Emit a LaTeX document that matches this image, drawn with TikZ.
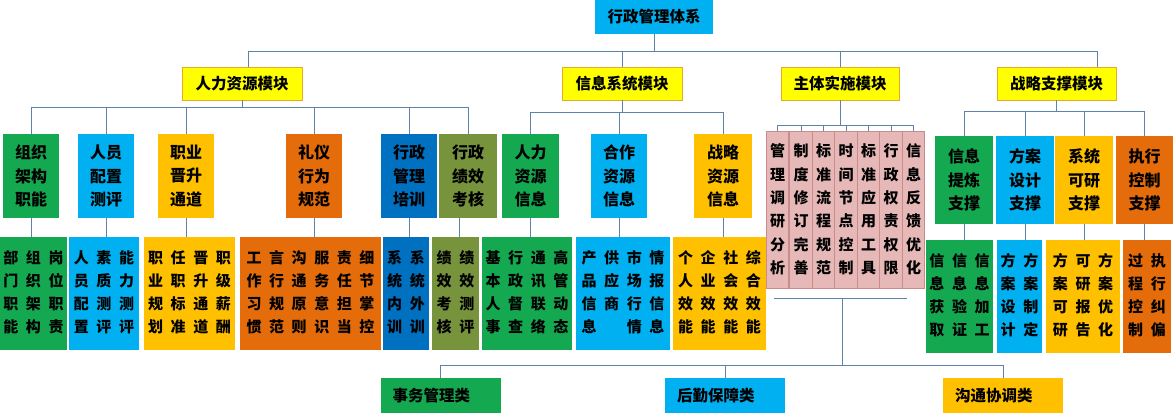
\documentclass[tikz,border=0pt]{standalone}
\usepackage{fontspec}
\setmainfont{Noto Sans CJK SC}
\definecolor{grn}{RGB}{20,168,80}
\definecolor{cyanb}{RGB}{0,176,240}
\definecolor{org}{RGB}{255,192,0}
\definecolor{orr}{RGB}{228,108,10}
\definecolor{blu}{RGB}{0,112,192}
\definecolor{olv}{RGB}{119,147,60}
\definecolor{yel}{RGB}{255,255,0}
\definecolor{yelb}{RGB}{230,170,40}
\definecolor{pinkc}{RGB}{230,185,184}
\definecolor{pinkb}{RGB}{200,140,140}
\definecolor{lnc}{RGB}{95,130,170}
\newcommand\grid[2]{\setlength\tabcolsep{3.8pt}\begin{tabular}{@{}*{#1}{c}@{}}#2\end{tabular}}
\tikzset{
  ln/.style={draw=lnc, line width=0.8pt},
  bx/.style={inner sep=0pt, font=\fontsize{16}{23.5}\selectfont\bfseries, align=center},
  l1/.style={bx, font=\fontsize{15.5}{18}\selectfont\bfseries, fill=cyanb, minimum width=118, minimum height=34},
  l2/.style={bx, font=\fontsize{15.5}{18}\selectfont\bfseries, fill=yel, draw=yelb, line width=0.6pt, minimum width=120, minimum height=33},
  l3/.style={bx, minimum width=56, minimum height=84},
  dt/.style={inner sep=0pt, font=\fontsize{15}{23}\selectfont\bfseries, minimum height=113},
  pk/.style={inner sep=0pt, fill=pinkc, draw=pinkb, line width=0.6pt, minimum width=22.5, minimum height=157, font=\fontsize{15}{23.4}\selectfont\bfseries, align=center},
  bt/.style={inner xsep=12, inner ysep=0, text width=96, minimum height=35, align=left, font=\fontsize{15.5}{18}\selectfont\bfseries}
}
\begin{document}
\begin{tikzpicture}[x=1pt,y=-1pt]
\fill[white] (0,0) rectangle (1175,414);
\useasboundingbox (0,0) rectangle (1175,414);
% top
\node[l1] (top) at (654,17) {行政管理体系};
\node[l2] (hr) at (242,83.5) {人力资源模块};
\node[l2] (info) at (622,83.5) {信息系统模块};
\node[l2,minimum width=118] (main) at (840,83.5) {主体实施模块};
\node[l2,minimum width=119] (st) at (1056.5,83.5) {战略支撑模块};
\coordinate (b1) at (0,52);
\draw[ln] ([xshift=6]hr.north) -- ++(0,-15) -| ([xshift=41]st.north);
\draw[ln] (top.south) -- (top.south |- b1);
\draw[ln] (info.north) -- (info.north |- b1);
\draw[ln] (main.north) -- (main.north |- b1);
% HR level 3
\node[l3,fill=grn] (h1) at (31,176) {组织\\架构\\职能};
\node[l3,fill=cyanb] (h2) at (106,176) {人员\\配置\\测评};
\node[l3,fill=org] (h3) at (186,176) {职业\\晋升\\通道};
\node[l3,fill=orr] (h4) at (314,176) {礼仪\\行为\\规范};
\node[l3,fill=blu] (h5) at (409,176) {行政\\管理\\培训};
\node[l3,fill=olv,minimum width=58] (h6) at (468,176) {行政\\绩效\\考核};
\coordinate (b2) at (0,108);
\draw[ln] (h1.north) -- ++(0,-26) -| (h6.north);
\draw[ln] (hr.south) -- (hr.south |- b2);
\foreach \n in {h2,h3,h4,h5} \draw[ln] (\n.north) -- (\n.north |- b2);
% HR details
\node[dt,fill=grn,minimum width=67] (d1) at (33.5,293.5) {\grid{3}{部&组&岗\\门&织&位\\职&架&职\\能&构&责}};
\node[dt,fill=cyanb,minimum width=70] (d2) at (104,293.5) {\grid{3}{人&素&能\\员&质&力\\配&测&测\\置&评&评}};
\node[dt,fill=org,minimum width=91] (d3) at (189.5,293.5) {\grid{4}{职&任&晋&职\\业&职&升&级\\规&标&通&薪\\划&准&道&酬}};
\node[dt,fill=orr,minimum width=141] (d4) at (310.5,293.5) {\grid{6}{工&言&沟&服&责&细\\作&行&通&务&任&节\\习&规&原&意&担&掌\\惯&范&则&识&当&控}};
\node[dt,fill=blu,minimum width=46] (d5) at (406,293.5) {\grid{2}{系&系\\统&统\\内&外\\训&训}};
\node[dt,fill=olv,minimum width=47] (d6) at (455.5,293.5) {\grid{2}{绩&绩\\效&效\\考&测\\核&评}};
\draw[ln] (h1.south) -- (h1.south |- d1.north);
\draw[ln] (h2.south) -- (h2.south |- d2.north);
\draw[ln] (h3.south) -- (h3.south |- d3.north);
\draw[ln] (h4.south) -- (h4.south |- d4.north);
\draw[ln] (h5.south) -- (h5.south |- d5.north);
\draw[ln] ([xshift=-9]h6.south) -- ([xshift=-9]h6.south |- d6.north);
% Info level 3
\node[l3,fill=grn,minimum width=57] (i1) at (530.5,176) {人力\\资源\\信息};
\node[l3,fill=cyanb] (i2) at (619,176) {合作\\资源\\信息};
\node[l3,fill=org,minimum width=58] (i3) at (723,176) {战略\\资源\\信息};
\coordinate (b3) at (0,113);
\draw[ln] (i1.north) -- ++(0,-21) -| (i3.north);
\draw[ln] (info.south) -- (info.south |- b3);
\draw[ln] (i2.north) -- (i2.north |- b3);
\node[dt,fill=grn,minimum width=90] (e1) at (527,293.5) {\grid{4}{基&行&通&高\\本&政&讯&管\\人&督&联&动\\事&查&络&态}};
\node[dt,fill=cyanb,minimum width=94] (e2) at (623,293.5) {\grid{4}{产&供&市&情\\品&应&场&报\\信&商&行&信\\息&&情&息}};
\node[dt,fill=org,minimum width=93] (e3) at (719.5,293.5) {\grid{4}{个&企&社&综\\人&业&会&合\\效&效&效&效\\能&能&能&能}};
\draw[ln] (i1.south) -- (i1.south |- e1.north);
\draw[ln] (i2.south) -- (i2.south |- e2.north);
\draw[ln] (i3.south) -- (i3.south |- e3.north);
% Main pink
\node[pk] (p1) at (777.5,209.5) {管\\理\\调\\研\\分\\析};
\node[pk] (p2) at (801,209.5) {制\\度\\修\\订\\完\\善};
\node[pk] (p3) at (823.5,209.5) {标\\准\\流\\程\\规\\范};
\node[pk] (p4) at (846,209.5) {时\\间\\节\\点\\控\\制};
\node[pk] (p5) at (868.5,209.5) {标\\准\\应\\用\\工\\具};
\node[pk] (p6) at (891,209.5) {行\\政\\权\\责\\权\\限};
\node[pk] (p7) at (913.5,209.5) {信\\息\\反\\馈\\优\\化};
\coordinate (b4) at (0,126);
\draw[ln] (p1.north) -- ++(0,-5) -| (p7.north);
\draw[ln] (main.south) -- (main.south |- b4);
\foreach \n in {p2,p3,p4,p5,p6} \draw[ln] (\n.north) -- (\n.north |- b4);
% bottom
\coordinate (pl) at (774,298);
\coordinate (pr) at (907,298);
\coordinate (pm) at (842,298);
\draw[ln] (pl) -- (pr);
\node[bt,fill=grn] (s1) at (440.5,395.5) {事务管理类};
\node[bt,fill=cyanb] (s2) at (725,395.5) {后勤保障类};
\node[bt,fill=org] (s3) at (1003,395.5) {沟通协调类};
\coordinate (b5) at (0,366);
\draw[ln] (s1.north) -- ++(0,-12) -| (s3.north);
\draw[ln] (s2.north) -- (s2.north |- b5);
\draw[ln] (pm) -- (pm |- b5);
% Strategy
\node[l3,fill=grn,minimum width=58,minimum height=88] (t1) at (964,180) {信息\\提炼\\支撑};
\node[l3,fill=cyanb,minimum width=58,minimum height=88] (t2) at (1025,180) {方案\\设计\\支撑};
\node[l3,fill=org,minimum width=58,minimum height=88] (t3) at (1084,180) {系统\\可研\\支撑};
\node[l3,fill=orr,minimum width=57,minimum height=88] (t4) at (1144.5,180) {执行\\控制\\支撑};
\coordinate (b6) at (0,112);
\draw[ln] (t1.north) -- ++(0,-24) -| (t4.north);
\draw[ln] (st.south) -- (st.south |- b6);
\draw[ln] (t2.north) -- (t2.north |- b6);
\draw[ln] (t3.north) -- (t3.north |- b6);
\node[dt,fill=grn,minimum width=67] (u1) at (959.5,296.5) {\grid{3}{信&信&信\\息&息&息\\获&验&加\\取&证&工}};
\node[dt,fill=cyanb,minimum width=45] (u2) at (1019.5,296.5) {\grid{2}{方&方\\案&案\\设&制\\计&定}};
\node[dt,fill=org,minimum width=74] (u3) at (1083,296.5) {\grid{3}{方&可&方\\案&研&案\\可&报&优\\研&告&化}};
\node[dt,fill=orr,minimum width=48] (u4) at (1147,296.5) {\grid{2}{过&执\\程&行\\控&纠\\制&偏}};
\draw[ln] (t1.south) -- (t1.south |- u1.north);
\draw[ln] (t2.south) -- (t2.south |- u2.north);
\draw[ln] (t3.south) -- (t3.south |- u3.north);
\draw[ln] (t4.south) -- (t4.south |- u4.north);
\end{tikzpicture}
\end{document}
